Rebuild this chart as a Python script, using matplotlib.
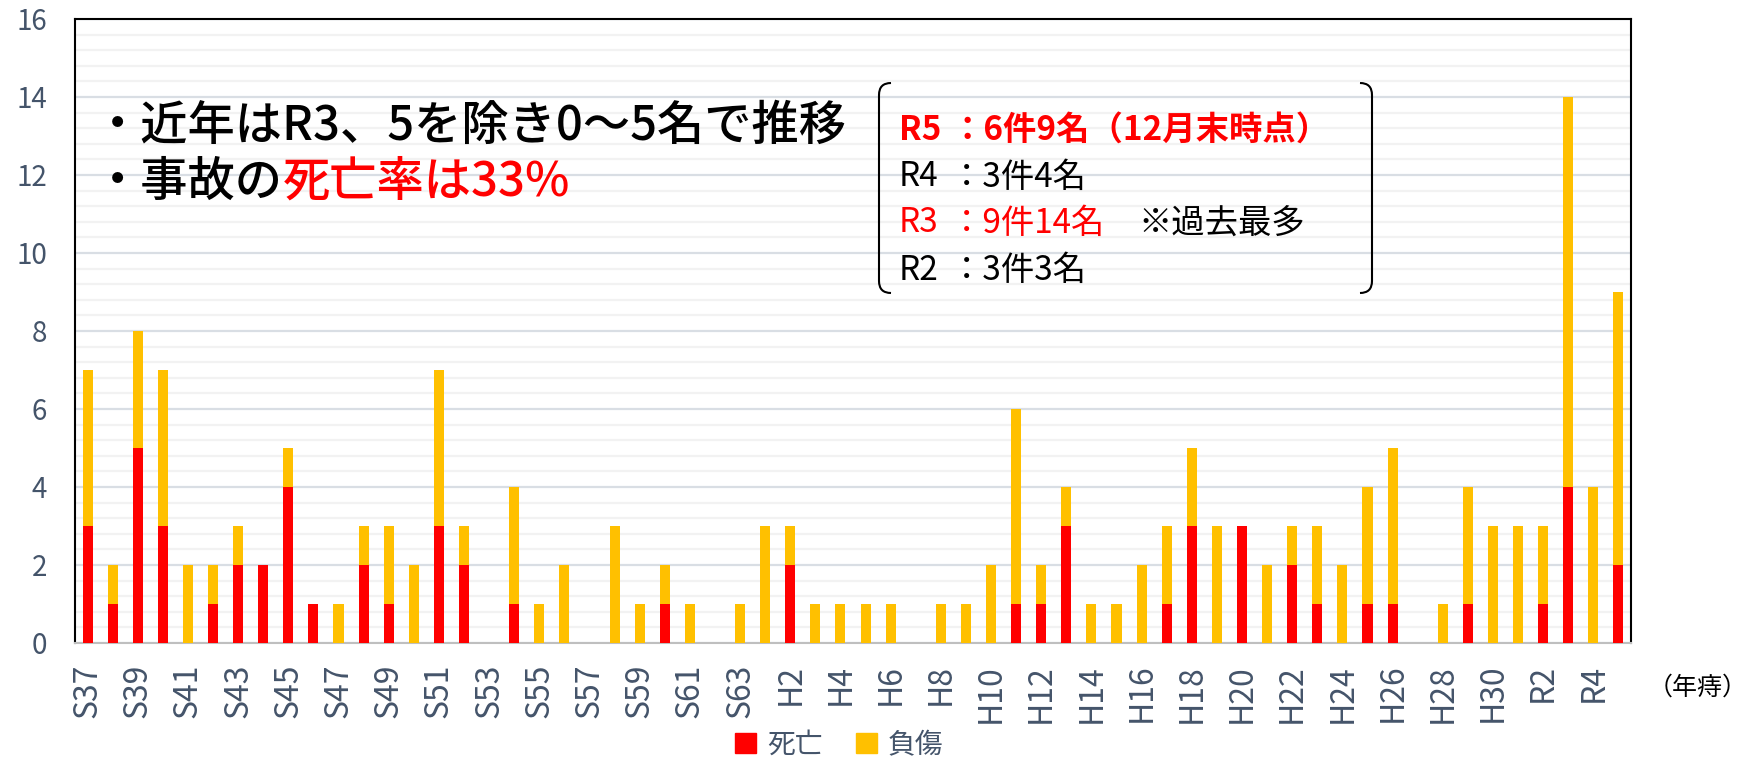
import numpy as np
import matplotlib.pyplot as plt
from matplotlib.path import Path
from matplotlib.patches import PathPatch, Patch
from matplotlib.ticker import MultipleLocator

plt.rcParams['font.family'] = ['Noto Sans CJK JP', 'DejaVu Sans']

# years (Showa 37 .. Reiwa 5)
years = [f"S{n}" for n in range(37, 64)] + [f"H{n}" for n in range(1, 31)] + [f"R{n}" for n in range(1, 6)]

# deaths / injured per year
deaths = [3, 1, 5, 3, 0, 1, 2, 2, 4, 1, 0, 2, 1, 0, 3, 2, 0, 1, 0, 0, 0, 0, 0, 1, 0, 0, 0,
          0, 2, 0, 0, 0, 0, 0, 0, 0, 0, 1, 1, 3, 0, 0, 0, 1, 3, 0, 3, 0, 2, 1, 0, 1, 1, 0, 0, 1, 0,
          0, 1, 4, 0, 2]
injured = [4, 1, 3, 4, 2, 1, 1, 0, 1, 0, 1, 1, 2, 2, 4, 1, 0, 3, 1, 2, 0, 3, 1, 1, 1, 0, 1,
           3, 1, 1, 1, 1, 1, 0, 1, 1, 2, 5, 1, 1, 1, 1, 2, 2, 2, 3, 0, 2, 1, 2, 2, 3, 4, 0, 1, 3, 3,
           3, 2, 10, 4, 7]

W, H = 1752, 762
RED = '#FF0000'
YEL = '#FFC000'
SLATE = '#44546A'

def fx(x):
    return x / W

def fy(y):
    return 1 - y / H

fig = plt.figure(figsize=(W / 100, H / 100), dpi=100)
ax = fig.add_axes([fx(75), fy(643), (1631 - 75) / W, (643 - 19) / H])

x = np.arange(len(years))
ax.bar(x, deaths, width=0.4, color=RED, zorder=3)
ax.bar(x, injured, width=0.4, bottom=deaths, color=YEL, zorder=3)

ax.set_xlim(-0.5, len(years) - 0.5)
ax.set_ylim(0, 16)
ax.yaxis.set_major_locator(MultipleLocator(2))
ax.yaxis.set_minor_locator(MultipleLocator(0.4))
ax.grid(axis='y', which='major', color='#D9DEE4', lw=1.6, zorder=1)
ax.grid(axis='y', which='minor', color='#F2F2F2', lw=1.6, zorder=0)
ax.set_xticks(x[::2])
ax.set_xticklabels(years[::2], rotation=90, fontsize=23, color=SLATE)
ax.tick_params(axis='x', length=0, pad=15)
ax.tick_params(axis='y', which='both', length=0, pad=20, labelsize=20, labelcolor=SLATE)
for s in ['top', 'left', 'right']:
    ax.spines[s].set_color('black')
    ax.spines[s].set_linewidth(1.5)
ax.spines['bottom'].set_color('#BFBFBF')
ax.spines['bottom'].set_linewidth(1.5)

# unit label
fig.text(fx(1698), fy(688), '（年痔）', fontsize=18, ha='center', va='center')

# legend
fig.legend(handles=[Patch(color=RED, label='死亡'), Patch(color=YEL, label='負傷')],
           loc='center', bbox_to_anchor=(fx(839), fy(745)), ncol=2, frameon=False,
           fontsize=20, labelcolor=SLATE, handlelength=0.75, handleheight=0.75,
           handletextpad=0.4, columnspacing=1.2)

# bullet notes
fig.text(fx(94), fy(126), '・近年はR3、5を除き0～5名で推移', fontsize=34, weight='medium',
         ha='left', va='center')
t2 = fig.text(fx(94), fy(182), '・事故の', fontsize=34, weight='medium', ha='left', va='center')
fig.canvas.draw()
x_end = t2.get_window_extent().x1
fig.text(x_end / W, fy(182), '死亡率は33%', fontsize=34, weight='medium', ha='left',
         va='center', color=RED)

# bracket box
bl, br, bt, bb, r = 879, 1372, 83, 293, 12
for xs, d in [(bl, 1), (br, -1)]:
    pts = [(xs + d * r, bt), (xs, bt), (xs, bt + r), (xs, bb - r), (xs, bb), (xs + d * r, bb)]
    codes = [Path.MOVETO, Path.CURVE3, Path.CURVE3, Path.LINETO, Path.CURVE3, Path.CURVE3]
    path = Path([(fx(a), fy(b)) for a, b in pts], codes)
    fig.add_artist(PathPatch(path, fill=False, lw=1.5, ec='black', transform=fig.transFigure))

rows = [('R5', '：6件9名（12月末時点）', RED, 'bold', 130),
        ('R4', '：3件4名', 'black', 'normal', 177),
        ('R3', '：9件14名', RED, 'normal', 223),
        ('R2', '：3件3名', 'black', 'normal', 270)]
for lab, txt, c, wt, yy in rows:
    fig.text(fx(899), fy(yy), lab, fontsize=24, color=c, weight=wt, ha='left', va='center')
    fig.text(fx(950), fy(yy), txt, fontsize=24, color=c, weight=wt, ha='left', va='center')
fig.text(fx(1138), fy(223), '※過去最多', fontsize=24, ha='left', va='center')

fig.savefig('out.png', dpi=100)
